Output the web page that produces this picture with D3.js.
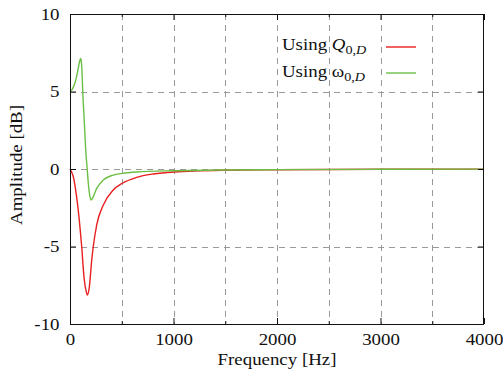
<!DOCTYPE html>
<html>
<head>
<meta charset="utf-8">
<script src="https://cdn.jsdelivr.net/npm/d3@7"></script>
<style>
  html, body { margin: 0; padding: 0; background: #fff; }
  svg { display: block; }
  svg text { font-family: "Liberation Serif", "Times New Roman", Tinos, "Nimbus Roman", Times, serif !important; fill: #111; }
</style>
</head>
<body>
<script>
// ---- data ----
const redFreq = [0, 16, 32, 64, 90, 113, 135, 145, 155, 167, 187, 210, 225, 258, 322, 418, 505, 644, 805, 1005, 1500, 2000, 3000, 4000];
const redAmp  = [0, -0.2, -0.5, -1.8, -3.3, -5.0, -6.95, -7.5, -7.85, -8.13, -7.6, -5.87, -5.0, -3.6, -2.32, -1.35, -0.92, -0.54, -0.32, -0.19, -0.08, -0.05, -0.02, -0.01];

const greenFreq = [0, 20, 40, 60, 80, 95, 103, 110, 117, 123, 133, 141, 152, 167, 177, 193, 203, 225, 258, 322, 418, 505, 644, 1005, 1500, 2000, 3000, 4000];
const greenAmp  = [5.0, 5.12, 5.4, 5.85, 6.5, 7.0, 7.13, 6.9, 6.1, 5.0, 3.7, 2.65, 1.23, -0.06, -0.92, -1.78, -2.0, -1.78, -1.25, -0.71, -0.39, -0.28, -0.19, -0.11, -0.06, -0.04, -0.02, -0.01];

const xTicks = [0, 1000, 2000, 3000, 4000];
const xMinorTicks = [500, 1500, 2500, 3500];
const yTicks = [-10, -5, 0, 5, 10];
const yTickLabels = ["-10", "-5", "0", "5", "10"];
const xGrid = [500, 1000, 1500, 2000, 2500, 3000, 3500];
const yGrid = [-5, 0, 5];

const seriesNames = ["Q", "ω"];
const seriesColors = ["#e82020", "#6cbf45"];

// ---- layout ----
const W = 503, H = 375;
const L = 70, R = 484, T = 14, B = 324;
const SX = 1.18; // horizontal stretch of the serif font

const svg = d3.select("body").append("svg").attr("width", W).attr("height", H)
  .attr("font-family", "Liberation Serif");

const x = d3.scaleLinear().domain([0, 4000]).range([L, R]);
const y = d3.scaleLinear().domain([-10, 10]).range([B, T]);

// grid
const grid = svg.append("g").attr("stroke", "#9a9a9a").attr("stroke-width", 1).attr("stroke-dasharray", "6,5");
grid.selectAll("line.v").data(xGrid).enter().append("line")
  .attr("x1", d => Math.round(x(d)) + 0.5).attr("x2", d => Math.round(x(d)) + 0.5)
  .attr("y1", T).attr("y2", B);
grid.selectAll("line.h").data(yGrid).enter().append("line")
  .attr("y1", d => Math.round(y(d)) + 0.5).attr("y2", d => Math.round(y(d)) + 0.5)
  .attr("x1", L).attr("x2", R);

// curves
const line = d3.line().x(d => x(d[0])).y(d => y(d[1])).curve(d3.curveMonotoneX);
const series = [
  d3.zip(redFreq, redAmp),
  d3.zip(greenFreq, greenAmp)
];
series.forEach((s, i) => {
  svg.append("path").datum(s)
    .attr("fill", "none").attr("stroke", seriesColors[i]).attr("stroke-width", 1.4)
    .attr("d", line);
});

// axes
function styleAxis(g) {
  g.attr("font-family", null);
  g.select(".domain").remove();
  g.selectAll(".tick line").attr("stroke", "#111");
}
const xAxis = svg.append("g").attr("transform", `translate(0,${B})`)
  .call(d3.axisBottom(x).tickValues(xTicks).tickSizeInner(-6).tickSizeOuter(0).tickPadding(0).tickFormat(d => String(d)));
styleAxis(xAxis);
xAxis.selectAll("text").attr("font-size", 16).attr("y", 21).attr("dy", 0)
  .attr("transform", `scale(${SX},1)`);

svg.append("g").attr("transform", `translate(0,${B})`)
  .call(d3.axisBottom(x).tickValues(xMinorTicks).tickSizeInner(-3).tickSizeOuter(0).tickFormat(""))
  .call(styleAxis);
svg.append("g").attr("transform", `translate(0,${T})`)
  .call(d3.axisTop(x).tickValues(xTicks).tickSizeInner(-6).tickSizeOuter(0).tickFormat(""))
  .call(styleAxis);
svg.append("g").attr("transform", `translate(0,${T})`)
  .call(d3.axisTop(x).tickValues(xMinorTicks).tickSizeInner(-3).tickSizeOuter(0).tickFormat(""))
  .call(styleAxis);

const yAxis = svg.append("g").attr("transform", `translate(${L},0)`)
  .call(d3.axisLeft(y).tickValues(yTicks).tickSizeInner(-6).tickSizeOuter(0)
    .tickFormat((d, i) => yTickLabels[i]));
styleAxis(yAxis);
yAxis.selectAll("text").attr("font-size", 16).attr("x", -10.5 / SX).attr("dy", "0.33em")
  .attr("transform", `scale(${SX},1)`);
svg.append("g").attr("transform", `translate(${R},0)`)
  .call(d3.axisRight(y).tickValues(yTicks).tickSizeInner(-6).tickSizeOuter(0).tickFormat(""))
  .call(styleAxis);

// frame
svg.append("rect").attr("x", L + 0.5).attr("y", T + 0.5).attr("width", R - L - 1).attr("height", B - T)
  .attr("fill", "none").attr("stroke", "#111").attr("stroke-width", 1);

// axis titles
svg.append("text").attr("transform", `translate(${(L + R) / 2},365) scale(${SX},1)`)
  .attr("text-anchor", "middle").attr("font-size", 16).text("Frequency [Hz]");
svg.append("text").attr("transform", `translate(22,165) rotate(-90) scale(${SX},1)`)
  .attr("text-anchor", "middle").attr("font-size", 16).text("Amplitude [dB]");

// legend
const legendRows = [50, 77];
const legendLineY = [47, 73];
seriesNames.forEach((name, i) => {
  const t = svg.append("text")
    .attr("transform", `translate(282,${legendRows[i]}) scale(${SX},1)`)
    .attr("text-anchor", "start").attr("font-size", 16);
  t.append("tspan").text("Using ");
  t.append("tspan").attr("font-style", name === "Q" ? "italic" : "normal").text(name);
  t.append("tspan").attr("font-size", 12).attr("dy", 4).text("0,");
  t.append("tspan").attr("font-size", 12).attr("font-style", "italic").text("D");
  svg.append("line").attr("x1", 386).attr("x2", 416)
    .attr("y1", legendLineY[i]).attr("y2", legendLineY[i])
    .attr("stroke", seriesColors[i]).attr("stroke-width", 1.4);
});
</script>
</body>
</html>
